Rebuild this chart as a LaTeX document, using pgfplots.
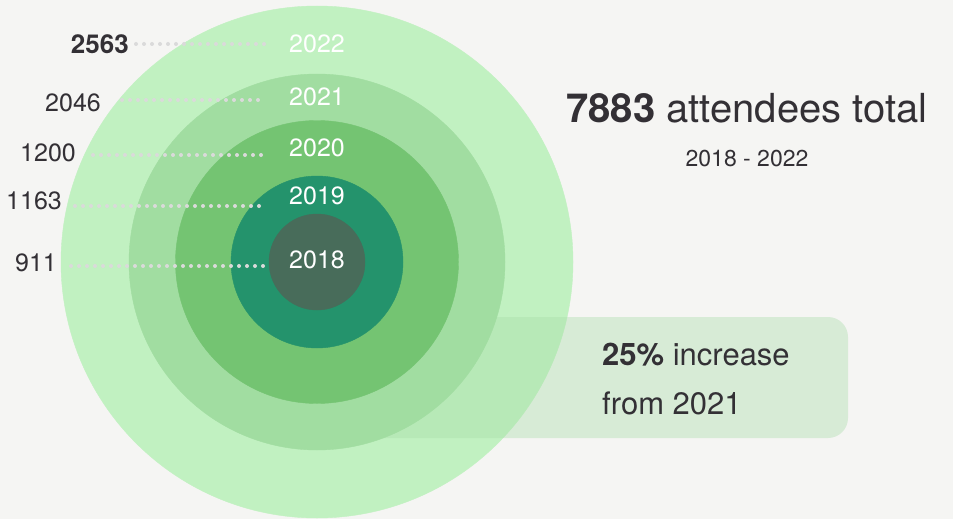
\documentclass[border=0pt]{standalone}
\usepackage{pgfplots}
\pgfplotsset{compat=1.18}
\usepackage{pgfplotstable}
\usepackage{fontspec}
\setmainfont{TeX Gyre Heros}
\definecolor{bg}{HTML}{F5F5F3}
\definecolor{c22}{HTML}{C1F1C1}
\definecolor{c21}{HTML}{A1DDA1}
\definecolor{c20}{HTML}{74C472}
\definecolor{c19}{HTML}{24936C}
\definecolor{c18}{HTML}{486C5A}
\definecolor{boxc}{HTML}{A8DCA8}
\definecolor{txt}{HTML}{333035}
\definecolor{dotc}{HTML}{DADADA}
\tikzset{
  dotline/.style={dotc, line width=4bp, line cap=round, dash pattern=on 0bp off 8bp},
  yr/.style={anchor=base, inner sep=0pt, text=white, font=\fontsize{25bp}{29bp}\selectfont},
  val/.style={anchor=base east, inner sep=0pt, text=txt, font=\fontsize{25bp}{29bp}\selectfont},
}
\begin{document}
\begin{tikzpicture}
\begin{axis}[
  width=953bp, height=519bp, scale only axis,
  xmin=0, xmax=953, ymin=0, ymax=519, y dir=reverse,
  hide axis, clip=false, clip marker paths=true,
]
\fill[bg] (axis cs:0,0) rectangle (axis cs:953,519);
% 2022 ring (2563 attendees)
\addplot[c22, only marks, mark=*, mark size=256bp, mark options={fill=c22, draw=c22}] coordinates {(317,262)};
% callout box
\fill[boxc, opacity=0.38, rounded corners=20bp] (axis cs:360,317) rectangle (axis cs:848,438);
% 2021 (2046), 2020 (1200), 2019 (1163), 2018 (911)
\addplot[c21, only marks, mark=*, mark size=188bp, mark options={fill=c21, draw=c21}] coordinates {(317,262)};
\addplot[c20, only marks, mark=*, mark size=141.5bp, mark options={fill=c20, draw=c20}] coordinates {(317,262)};
\addplot[c19, only marks, mark=*, mark size=86bp, mark options={fill=c19, draw=c19}] coordinates {(317,262)};
\addplot[c18, only marks, mark=*, mark size=48bp, mark options={fill=c18, draw=c18}] coordinates {(317,262)};
% dotted leader lines
\addplot[dotline] coordinates {(136,44) (265,44)};
\addplot[dotline] coordinates {(122,100) (259,100)};
\addplot[dotline] coordinates {(93,155) (263,155)};
\addplot[dotline] coordinates {(75,206) (261,206)};
\addplot[dotline] coordinates {(71,266) (264,266)};
% value labels
\node[val, font=\fontsize{26bp}{30bp}\selectfont\bfseries] at (axis cs:129,54) {2563};
\node[val] at (axis cs:101,111) {2046};
\node[val] at (axis cs:76,161) {1200};
\node[val] at (axis cs:62,209) {1163};
\node[val] at (axis cs:57,271) {911};
% year labels
\node[yr] at (axis cs:317,53) {2022};
\node[yr] at (axis cs:317,105) {2021};
\node[yr] at (axis cs:317,156) {2020};
\node[yr] at (axis cs:317,204) {2019};
\node[yr] at (axis cs:317,268) {2018};
% headline
\node[anchor=base, inner sep=0pt, text=txt, font=\fontsize{40bp}{46bp}\selectfont] at (axis cs:747,122) {\textbf{7883} attendees total};
\node[anchor=base, inner sep=0pt, text=txt, font=\fontsize{23bp}{27bp}\selectfont] at (axis cs:747,166) {2018 - 2022};
% callout text
\node[anchor=base west, inner sep=0pt, text=txt, font=\fontsize{31bp}{36bp}\selectfont] at (axis cs:602,365) {\textbf{25\%} increase};
\node[anchor=base west, inner sep=0pt, text=txt, font=\fontsize{31bp}{36bp}\selectfont] at (axis cs:602,414) {from 2021};
\end{axis}
\end{tikzpicture}
\end{document}
